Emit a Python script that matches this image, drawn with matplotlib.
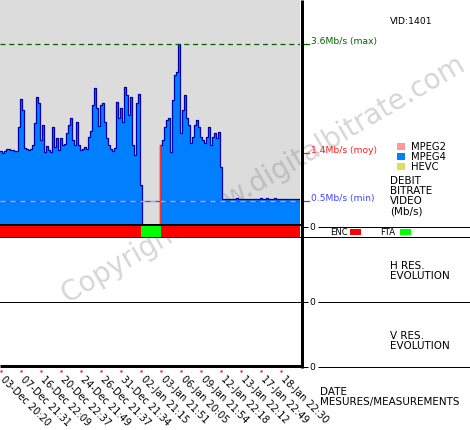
import numpy as np
import matplotlib
matplotlib.use("Agg")
import matplotlib.pyplot as plt
import matplotlib.transforms as mtransforms
from matplotlib.lines import Line2D
from matplotlib.patches import Rectangle

W, H = 470, 430

# ---------------- data ----------------
bitrate = [
    1.47, 1.43, 1.47, 1.51, 1.51, 1.49, 1.49, 1.47, 1.47, 1.95,
    2.51, 2.29, 1.53, 1.51, 1.49, 1.51, 1.59, 2.03, 2.55, 2.43,
    1.69, 1.99, 1.45, 1.57, 1.49, 1.45, 1.95, 1.55, 1.73, 1.49,
    1.73, 1.59, 1.61, 1.83, 1.99, 2.13, 1.69, 1.59, 2.05, 1.59,
    1.49, 1.51, 1.55, 1.51, 1.75, 1.87, 2.39, 2.72, 2.33, 1.97,
    2.39, 2.43, 2.05, 1.73, 1.59, 1.51, 1.47, 1.53, 2.45, 2.13,
    2.33, 2.05, 2.74, 2.59, 2.19, 2.55, 1.59, 1.40, 2.43, 2.60,
    0.80, 0.00, 0.00, 0.00, 0.00, 0.00, 0.00, 0.00, 0.00, 0.00,
    1.59, 1.69, 1.95, 2.09, 2.13, 1.45, 2.49, 2.98, 3.04, 3.60,
    1.83, 2.29, 2.59, 2.13, 1.99, 1.63, 1.75, 1.99, 2.09, 1.95,
    1.75, 1.69, 1.63, 1.75, 1.95, 1.59, 1.75, 1.83, 1.73, 1.85,
    1.15, 0.51, 0.51, 0.51, 0.51, 0.51, 0.51, 0.51, 0.53, 0.51,
    0.51, 0.51, 0.51, 0.51, 0.51, 0.51, 0.51, 0.51, 0.51, 0.51,
    0.53, 0.51, 0.51, 0.53, 0.51, 0.51, 0.51, 0.53, 0.51, 0.51,
    0.51, 0.51, 0.51, 0.51, 0.51, 0.51, 0.51, 0.51, 0.51, 0.51,
]
bitrate_max = 3.60
bitrate_avg = 1.43
bitrate_min = 0.477
vid_label = "VID:1401"

codecs = ["MPEG2", "MPEG4", "HEVC"]
codec_colors = ["#ff9999", "#0080ff", "#dddd66"]

status_names = ["ENC", "FTA", "ENC"]
status_start = [0, 70.4, 80.4]
status_end = [70.4, 80.4, 150]
status_colors = {"ENC": "#ff0000", "FTA": "#00ff00"}

date_tick_idx = [0, 10, 20, 30, 40, 50, 60, 70, 80, 90, 100, 110, 120, 130, 140]
date_labels = ["03-Dec 20:20", "07-Dec 21:31", "16-Dec 22:09", "20-Dec 22:37",
               "24-Dec 21:49", "26-Dec 21:37", "31-Dec 21:34", "02-Jan 21:15",
               "03-Jan 21:51", "06-Jan 20:05", "09-Jan 21:54", "12-Jan 22:18",
               "13-Jan 22:12", "17-Jan 22:49", "18-Jan 22:30"]

# ---------------- figure ----------------
plt.rcParams['font.family'] = ['DejaVu Sans']
fig = plt.figure(figsize=(W / 100, H / 100), dpi=100)
PX = 0.72  # points per pixel


def box(x0, y0, x1, y1):
    return [x0 / W, 1 - y1 / H, (x1 - x0) / W, (y1 - y0) / H]


def fline(x0, y0, x1, y1, lw=1, color="black"):
    fig.add_artist(Line2D([x0 / W, x1 / W], [1 - y0 / H, 1 - y1 / H],
                          transform=fig.transFigure, lw=lw * PX, color=color,
                          solid_capstyle="butt"))


def ftext(x, y, s, size=7.5, color="black", **kw):
    fig.text(x / W, 1 - y / H, s, fontsize=size, color=color,
             ha=kw.pop("ha", "left"), va=kw.pop("va", "center"), **kw)


n = len(bitrate)
edges = np.arange(n + 1)
vals = np.append(bitrate, bitrate[-1])

# bitrate panel
ax = fig.add_axes(box(0, 0, 300, 225))
ax.set_facecolor("#dcdcdc")
ax.fill_between(edges, vals, step="post", color="#0080ff", lw=0)
ax.step(edges, vals, where="post", color="#0000a8", lw=0.9)
zero_idx = [i for i, v in enumerate(bitrate) if v == 0]
g0, g1 = zero_idx[0], zero_idx[-1] + 1
ax.step(edges[g0:g1 + 1], vals[g0:g1 + 1], where="post", color="#ff3030",
        lw=1.0, clip_on=False, zorder=3)
ax.axhline(bitrate_max, color="#006400", lw=0.9, dashes=(4, 3))
ax.axhline(bitrate_min, color="#4444ff", lw=0.9)
ax.axhline(bitrate_min, color="#ff9999", lw=0.9, dashes=(4, 4))
ax.set_xlim(0, n)
ax.set_ylim(0, 225 / 50.28)
ax.set_xticks([])
ax.set_yticks([])
for s in ax.spines.values():
    s.set_visible(False)

blend = mtransforms.blended_transform_factory(ax.transAxes, ax.transData)
for v, col, name in [(bitrate_max, "#006400", "max"),
                     (bitrate_avg, "#ff2020", "moy"),
                     (bitrate_min, "#4444ff", "min")]:
    ax.plot([1.01, 1.03], [v, v], transform=blend, color=col, lw=0.9, clip_on=False)
    ax.annotate(f"{v:.1f}Mb/s ({name})", xy=(1.0, v), xycoords=blend,
                xytext=(11 * PX, 2.5 * PX), textcoords="offset points",
                fontsize=6.6, color=col, va="center", ha="left",
                annotation_clip=False)

# watermark
ax.text(263 / W, 1 - 180 / H, "Copyright www.digitalbitrate.com",
        transform=fig.transFigure, rotation=30.4, ha="center", va="center",
        fontsize=19.8, color="#808080", alpha=0.32, zorder=0.5, clip_on=False)

# status bar
axe = fig.add_axes(box(0, 225, 300, 237))
for name, a, b in zip(status_names, status_start, status_end):
    axe.axvspan(a, b, color=status_colors[name], lw=0)
axe.set_xlim(0, n)
axe.set_ylim(0, 1)
axe.set_xticks([])
axe.set_yticks([])
for k, s in axe.spines.items():
    s.set_visible(k in ("top", "bottom"))
axe.spines["top"].set_linewidth(2 * PX)
axe.spines["bottom"].set_linewidth(1 * PX)

# H res panel
axh = fig.add_axes(box(0, 237, 300, 302))
axh.set_facecolor("none")
axh.set_xticks([])
axh.set_yticks([])
for k, s in axh.spines.items():
    s.set_visible(k == "bottom")
axh.spines["bottom"].set_linewidth(1 * PX)

# V res panel + dates
axv = fig.add_axes(box(0, 302, 300, 366))
axv.set_facecolor("none")
axv.set_xlim(0, n)
axv.set_ylim(0, 1)
axv.set_xticks([])
axv.set_yticks([])
for s in axv.spines.values():
    s.set_visible(False)
vb = mtransforms.blended_transform_factory(axv.transData, axv.transAxes)
dot_tr = vb + mtransforms.ScaledTranslation(0, -5 / 100, fig.dpi_scale_trans)
tick_x = np.array(date_tick_idx) + 0.5
axv.plot(tick_x, np.zeros(len(tick_x)), "s", ms=2 * PX, color="#ff0000",
         mec="none", transform=dot_tr, clip_on=False)
lab_tr = vb + mtransforms.ScaledTranslation(5 / 100, -8 / 100, fig.dpi_scale_trans)
for x, lab in zip(tick_x, date_labels):
    axv.text(x, 0, lab, transform=lab_tr, rotation=-45, rotation_mode="anchor",
             ha="left", va="top", fontsize=7, clip_on=False)

# frame lines
fline(301.5, 0, 301.5, 367.5, lw=3)
fline(0, 365.5, 303, 365.5, lw=3)

# right-side axis lines
for y in (226.5, 302, 366.5):
    fline(303, y, 308, y, lw=1)
    ftext(312, y + 0.5, "0", size=6.6, ha="center")
    fline(318, y, 470, y, lw=1)
fline(303, 236.8, 470, 236.8, lw=1)

# texts
ftext(390, 22, vid_label, size=6.7)
for k, (c, col) in enumerate(zip(codecs, codec_colors)):
    yc = 146.5 + 10 * k
    fig.add_artist(Rectangle((397 / W, 1 - (yc + 3.5) / H), 8 / W, 7 / H,
                             transform=fig.transFigure, color=col, lw=0))
    ftext(411, yc, c, size=7.2)
for k, s in enumerate(["DEBIT", "BITRATE", "VIDEO", "(Mb/s)"]):
    ftext(390, 181 + 10 * k, s)
for k, s in enumerate(["H RES.", "EVOLUTION"]):
    ftext(390, 266 + 10 * k, s)
for k, s in enumerate(["V RES.", "EVOLUTION"]):
    ftext(390, 336 + 10 * k, s)
for k, s in enumerate(["DATE", "MESURES/MEASUREMENTS"]):
    ftext(320, 392 + 10 * k, s)

ftext(330, 232, "ENC", size=6.1)
fig.add_artist(Rectangle((350 / W, 1 - 235 / H), 11 / W, 6 / H,
                         transform=fig.transFigure, color=status_colors["ENC"], lw=0))
ftext(380, 232, "FTA", size=6.1)
fig.add_artist(Rectangle((400 / W, 1 - 235 / H), 11 / W, 6 / H,
                         transform=fig.transFigure, color=status_colors["FTA"], lw=0))

fig.savefig("out.png", dpi=100)
